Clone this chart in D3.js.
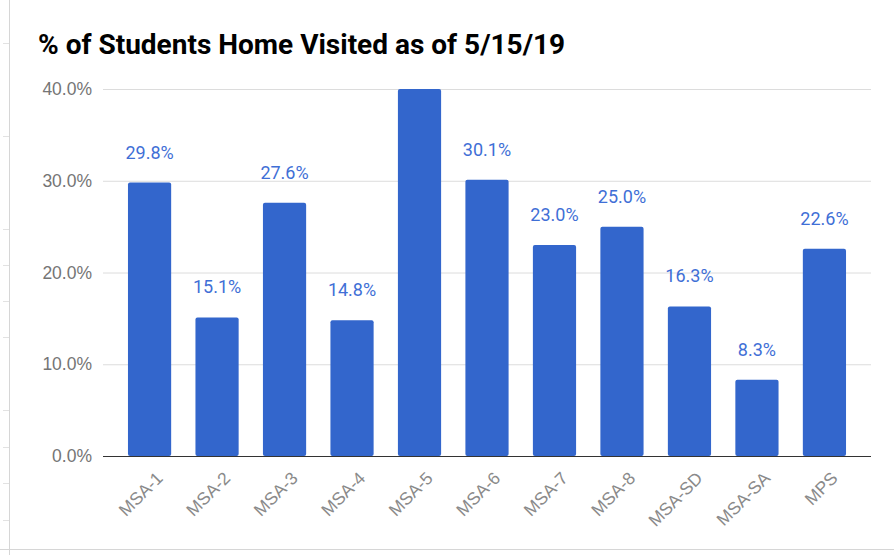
<!DOCTYPE html>
<html>
<head>
<meta charset="utf-8">
<script src="https://cdn.jsdelivr.net/npm/d3@7"></script>
<style>
  body { margin: 0; background: #fff; }
  svg { display: block; font-family: Roboto, Arial, sans-serif; }
</style>
</head>
<body>
<svg id="canvas"></svg>
<script>
// chart data
let categories = ['MSA-1', 'MSA-2', 'MSA-3', 'MSA-4', 'MSA-5', 'MSA-6', 'MSA-7', 'MSA-8', 'MSA-SD', 'MSA-SA', 'MPS']
let values = [29.8, 15.1, 27.6, 14.8, 40.0, 30.1, 23.0, 25.0, 16.3, 8.3, 22.6]
let yTicks = [0, 10, 20, 30, 40]
let title = '% of Students Home Visited as of 5/15/19'

let width = 894
let height = 555
let plotLeft = 103
let plotRight = 871
let plotTop = 89
let plotBottom = 456

let rows = values.map((v, i) => ({ name: categories[i], value: v }))

let canvas = d3.select('#canvas')
canvas.attr('width', width).attr('height', height)

// sheet frame
canvas.append('line')
    .attr('x1', 9.5).attr('x2', 9.5).attr('y1', 0).attr('y2', height)
    .attr('stroke', '#d6d6d6')
canvas.append('line')
    .attr('x1', 0).attr('x2', width).attr('y1', 549.5).attr('y2', 549.5)
    .attr('stroke', '#d6d6d6')
let rowMarks = [43, 136, 229, 265, 301, 337, 410, 447, 483, 520]
canvas.selectAll('.rowmark')
    .data(rowMarks)
    .enter()
    .append('line')
    .attr('class', 'rowmark')
    .attr('x1', 3).attr('x2', 9).attr('y1', d => d + 0.5).attr('y2', d => d + 0.5)
    .attr('stroke', '#e2e2e2')

let xScale = d3.scaleBand()
    .domain(categories)
    .range([plotLeft, plotRight])
    .paddingInner(0.36)
    .paddingOuter(0.37)

let yScale = d3.scaleLinear()
    .domain([0, 40])
    .range([plotBottom, plotTop])

// gridlines + y labels
let yAxis = d3.axisLeft(yScale)
    .tickValues(yTicks)
    .tickSize(-(plotRight - plotLeft))
    .tickPadding(11)
    .tickFormat(d => d.toFixed(1) + '%')
let gy = canvas.append('g')
    .attr('id', 'y-axis')
    .attr('transform', 'translate(' + plotLeft + ',0)')
    .call(yAxis)
gy.select('.domain').remove()
gy.selectAll('.tick line').attr('stroke', '#dcdcdc')
gy.selectAll('.tick text')
    .attr('fill', '#757575')
    .style('font-size', '17.5px')

// bars
canvas.selectAll('.bar')
    .data(rows)
    .enter()
    .append('rect')
    .attr('class', 'bar')
    .attr('x', d => xScale(d.name))
    .attr('width', xScale.bandwidth())
    .attr('y', d => yScale(Math.min(d.value, 40)))
    .attr('height', d => plotBottom - yScale(Math.min(d.value, 40)))
    .attr('rx', 2)
    .attr('fill', '#3366cc')

// value labels (none for the bar that hits the top)
canvas.selectAll('.val')
    .data(rows.filter(d => d.value < 40))
    .enter()
    .append('text')
    .attr('class', 'val')
    .attr('x', d => xScale(d.name) + xScale.bandwidth() / 2)
    .attr('y', d => yScale(d.value) - 24)
    .attr('text-anchor', 'middle')
    .attr('fill', '#3f6fd6')
    .style('font-size', '18px')
    .text(d => d.value.toFixed(1) + '%')

// baseline
canvas.append('line')
    .attr('x1', plotLeft).attr('x2', plotRight)
    .attr('y1', plotBottom + 0.5).attr('y2', plotBottom + 0.5)
    .attr('stroke', '#333')
    .attr('stroke-width', 1.2)

// x labels
let xAxis = d3.axisBottom(xScale).tickSize(0).tickPadding(0)
let gx = canvas.append('g')
    .attr('id', 'x-axis')
    .attr('transform', 'translate(0,' + plotBottom + ')')
    .call(xAxis)
gx.select('.domain').remove()
gx.selectAll('.tick text')
    .attr('fill', '#8a8a8a')
    .style('font-size', '17.5px')
    .attr('text-anchor', 'end')
    .attr('transform', 'translate(10,19) rotate(-45)')
    .attr('dy', '0.35em')

// title
canvas.append('text')
    .attr('x', 38)
    .attr('y', 54)
    .attr('fill', '#000')
    .style('font-size', '28px')
    .style('font-weight', 'bold')
    .text(title)
</script>
</body>
</html>
